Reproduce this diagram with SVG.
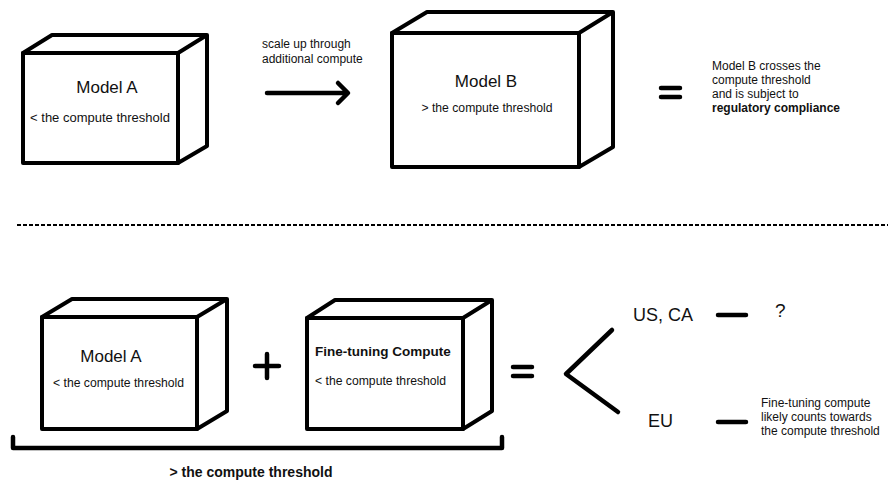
<svg xmlns="http://www.w3.org/2000/svg" width="888" height="483" viewBox="0 0 888 483">
<style>
.box{fill:#fff;stroke:#000;stroke-width:4;stroke-linejoin:round}
.ln{fill:none;stroke:#000;stroke-width:4.5;stroke-linecap:round;stroke-linejoin:round}
text{font-family:"Liberation Sans",Arial,sans-serif;fill:#111}
.t17{font-size:17px}
.t13{font-size:13px}
.t12{font-size:12.2px}
.t11{font-size:12px}
.b{font-weight:bold}
</style>
<rect width="888" height="483" fill="#fff"/>
<g id="modelA-top">
<path class="box" d="M23,53 L52,35 L207,35 L207,146 L178,163 Z"/>
<path class="box" d="M23,53 H178 V163 H23 Z M178,53 L207,35"/>
<text class="t17" x="107" y="93" text-anchor="middle">Model A</text>
<text class="t13" x="100" y="122" text-anchor="middle">&lt; the compute threshold</text>
</g>
<g id="modelB">
<path class="box" d="M392,33 L427,12 L613,12 L613,147 L579,167 Z"/>
<path class="box" d="M392,33 H579 V167 H392 Z M579,33 L613,12"/>
<text class="t17" x="486" y="87" text-anchor="middle">Model B</text>
<text class="t12" x="487" y="112" text-anchor="middle">&gt; the compute threshold</text>
</g>
<g id="scale-label">
<text class="t11" x="262" y="48">scale up through</text>
<text class="t11" x="262" y="63">additional compute</text>
</g>
<g id="result-top">
<text class="t11" x="712" y="70">Model B crosses the</text>
<text class="t11" x="712" y="84">compute threshold</text>
<text class="t11" x="712" y="98">and is subject to</text>
<text class="t11 b" x="712" y="112">regulatory compliance</text>
</g>
<g id="modelA-bottom">
<path class="box" d="M42,317 L72,299 L227,299 L227,411 L197,429 Z"/>
<path class="box" d="M42,317 H197 V429 H42 Z M197,317 L227,299"/>
<text class="t17" x="111" y="362" text-anchor="middle">Model A</text>
<text class="t12" x="53" y="387">&lt; the compute threshold</text>
</g>
<g id="finetune">
<path class="box" d="M307,318 L335,300 L492,300 L492,411 L463,429 Z"/>
<path class="box" d="M307,318 H463 V429 H307 Z M463,318 L492,300"/>
<text class="b" font-size="13.5" x="315" y="356">Fine-tuning Compute</text>
<text class="t12" x="315" y="385">&lt; the compute threshold</text>
</g>
<g id="sum-label">
<text class="b" font-size="14" x="251" y="477" text-anchor="middle">&gt; the compute threshold</text>
</g>
<g id="us-ca">
<text font-size="18" x="633" y="321">US, CA</text>
<text font-size="19" x="775" y="317">?</text>
</g>
<g id="eu">
<text font-size="18" x="648" y="427">EU</text>
<text class="t11" x="761" y="407">Fine-tuning compute</text>
<text class="t11" x="761" y="421">likely counts towards</text>
<text class="t11" x="761" y="435">the compute threshold</text>
</g>
<g id="connectors">
<line x1="17" y1="225" x2="888" y2="225" stroke="#000" stroke-width="1.8" stroke-dasharray="4,2"/>
<path class="ln" d="M267,93 H347 M338,83 L348,93 L338,103"/>
<path class="ln" d="M661,88 H680 M661,97 H680"/>
<path class="ln" d="M255,366 H279 M267,354 V378"/>
<path class="ln" d="M513,367 H532 M513,376 H532"/>
<path class="ln" d="M612,330 L566,374 L618,412"/>
<path class="ln" d="M718,315 H746 M718,422 H746"/>
<path class="ln" d="M13,437 V448 H502 V437"/>
</g>
</svg>
